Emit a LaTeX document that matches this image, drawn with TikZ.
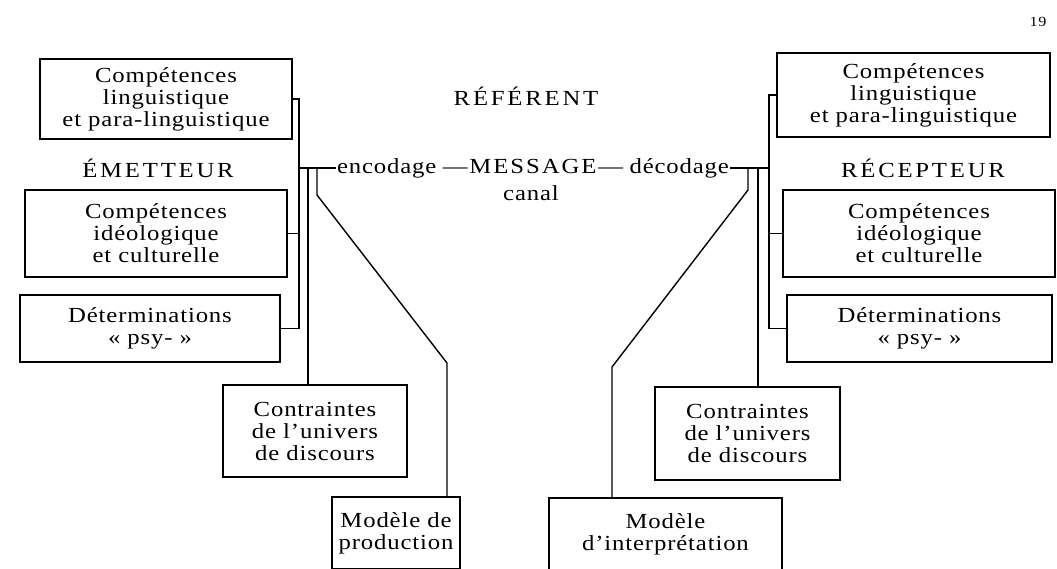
\documentclass[tikz,border=0pt]{standalone}
\usepackage{fontspec}
\setmainfont{Liberation Serif}[FakeStretch=1.15,LetterSpace=4]
\usepackage{tikz}

\begin{document}
\begin{tikzpicture}[x=1pt,y=-1pt,line width=1.4pt,
  txtbox/.style={draw, align=center, inner sep=2pt, font=\fontsize{21.5}{22}\selectfont},
  lbl/.style={align=center, inner sep=0pt, font=\fontsize{21.5}{22}\selectfont},
  caps/.style={inner sep=0pt, font={\fontsize{21.5}{22}\selectfont\addfontfeatures{LetterSpace=13}}},
  msgtxt/.style={inner sep=0pt, font={\fontsize{21.5}{22}\selectfont\addfontfeatures{LetterSpace=9}}}]
\useasboundingbox (0,0) rectangle (1057,568);
\node [inner sep=0pt, font=\fontsize{14}{14}\selectfont] (page) at (1038,22) {19};
\node [caps, anchor=base] (referent) at (526,105) {RÉFÉRENT};

\node [txtbox, minimum width=252, minimum height=80] (lingE) at (166,99) {Compétences\\linguistique\\et para-linguistique};
\node [caps, anchor=base] (emetteur) at (158,177) {ÉMETTEUR};
\node [txtbox, minimum width=262, minimum height=87] (ideoE) at (156,233.5) {Compétences\\idéologique\\et culturelle};
\node [txtbox, minimum width=260, minimum height=67] (psyE) at (150,328.5) {Déterminations\\«~psy-~»};
\node [txtbox, minimum width=184, minimum height=92] (univE) at (315,431) {Contraintes\\de l’univers\\de discours};
\node [txtbox, minimum width=128, minimum height=72] (modE) at (396,533) {Modèle de\\production};

\node [txtbox, minimum width=273, minimum height=84] (lingR) at (913.5,95) {Compétences\\linguistique\\et para-linguistique};
\node [caps, anchor=base] (recepteur) at (923,177) {RÉCEPTEUR};
\node [txtbox, minimum width=272, minimum height=87] (ideoR) at (919,233.5) {Compétences\\idéologique\\et culturelle};
\node [txtbox, minimum width=265, minimum height=67] (psyR) at (919.5,328.5) {Déterminations\\«~psy-~»};
\node [txtbox, minimum width=185, minimum height=93] (univR) at (747.5,433.5) {Contraintes\\de l’univers\\de discours};
\node [txtbox, minimum width=233, minimum height=72] (modR) at (665.5,534) {Modèle\\d’interprétation};

\node [msgtxt, anchor=base] (msg) at (533,173) {---MESSAGE---};
\node [lbl, anchor=base east] (enc) at ([xshift=-5pt]msg.base west) {encodage};
\node [lbl, anchor=base west] (dec) at ([xshift=5pt]msg.base east) {décodage};
\node [lbl, anchor=base] (canal) at (531,200) {canal};

\coordinate (busE) at (299,168);
\coordinate (univEtop) at (308,168);
\coordinate (modEtop) at (317,168);
\coordinate (modEbend) at (317,195);
\coordinate (modEdiag) at (447,363);
\draw (lingE.east) -| (busE) |- (psyE.east);
\draw (ideoE.east) -- (ideoE.east -| busE);
\draw (busE) -- (busE -| enc.west);
\draw (univEtop) -- (univEtop |- univE.north);
\draw (modEtop) -- (modEbend) -- (modEdiag) -- (modEdiag |- modE.north);

\coordinate (busR) at (769,168);
\coordinate (univRtop) at (758,168);
\coordinate (modRtop) at (748,168);
\coordinate (modRbend) at (748,190);
\coordinate (modRdiag) at (612,367);
\draw (lingR.west) -| (busR) |- (psyR.west);
\draw (ideoR.west) -- (ideoR.west -| busR);
\draw (busR) -- (busR -| dec.east);
\draw (univRtop) -- (univRtop |- univR.north);
\draw (modRtop) -- (modRbend) -- (modRdiag) -- (modRdiag |- modR.north);
\end{tikzpicture}
\end{document}
